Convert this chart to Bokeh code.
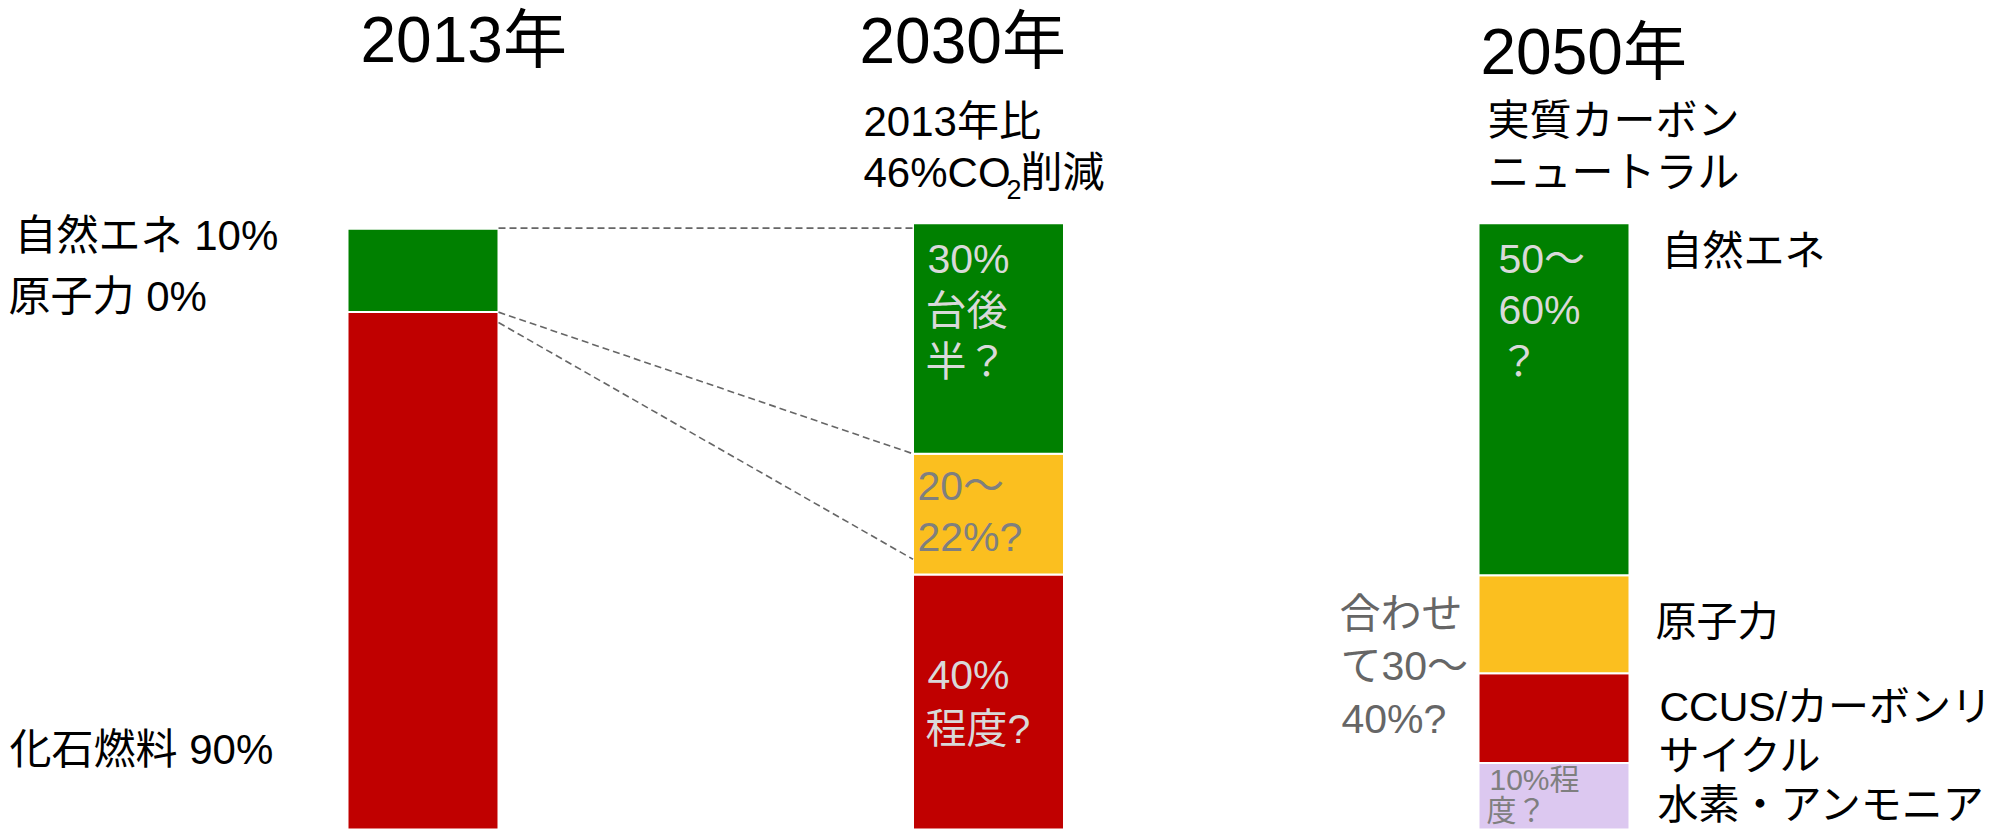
from bokeh.plotting import figure
from bokeh.models import Range1d, Label, ColumnDataSource
from bokeh.embed import file_html
from bokeh.resources import INLINE

# ---- data (% of generation) ----
years = ["2013年", "2030年", "2050年"]
series = ["hydrogen", "fossil", "nuclear", "renewable"]
hydrogen = [0.0, 0.0, 12.0]      # 水素・アンモニア
fossil = [85.5, 42.7, 14.6]      # 化石燃料 / CCUS・カーボンリサイクル
nuclear = [0.0, 19.7, 16.0]      # 原子力
renewable = [13.6, 37.6, 57.4]   # 自然エネ
colors = ["#DCC8F0", "#C00000", "#FBBF1F", "#008000"]

# dashed connectors from the 2013 bar to the 2030 bar (values)
conn_start = [99.2, 85.5, 83.8]
conn_end = [99.2, 62.4, 45.2]

FONT = "'Liberation Sans', 'Noto Sans CJK JP'"
W, H = 1995, 829
BW = 0.267
X0, SLOPE = -0.74713, 565.5  # data x at the left canvas edge, px per unit

p = figure(width=W, height=H, output_backend="svg", toolbar_location=None,
           x_range=Range1d(X0, X0 + W / SLOPE), y_range=Range1d(1.141, 136.31),
           x_axis_location=None, y_axis_location=None, min_border=0,
           outline_line_color=None, background_fill_color="white",
           border_fill_color="white")
p.grid.visible = False

idx = list(range(len(years)))
src = ColumnDataSource(dict(x=idx, hydrogen=hydrogen, fossil=fossil,
                            nuclear=nuclear, renewable=renewable))
p.vbar_stack(series, x="x", width=BW, fill_color=colors, line_color="white",
             line_width=2, source=src)

p.segment(x0=[idx[0] + BW / 2] * len(conn_start), y0=conn_start,
          x1=[idx[1] - BW / 2] * len(conn_end), y1=conn_end,
          line_color="#666666", line_width=1.6, line_dash="7 4")

BLACK = "#000000"
LIGHT = "#D9D9D9"
GRAY = "#7F7F7F"
DGRAY = "#666666"

texts = [
    ("2013年", 360, 41.5, 64, BLACK),
    ("2030年", 859, 42.5, 64, BLACK),
    ("2050年", 1480, 53, 64, BLACK),
    ("2013年比", 863, 122.5, 42, BLACK),
    ("46%CO", 863, 173.5, 42, BLACK),
    ("2", 1006, 190, 27, BLACK),
    ("削減", 1020, 173.5, 42, BLACK),
    ("実質カーボン", 1487, 121.5, 42, BLACK),
    ("ニュートラル", 1487, 173.5, 42, BLACK),
    ("自然エネ 10%", 14, 236, 42, BLACK),
    ("原子力 0%", 8, 297.5, 42, BLACK),
    ("化石燃料 90%", 9, 750, 42, BLACK),
    ("自然エネ", 1661, 251.5, 41, BLACK),
    ("原子力", 1655, 622.5, 41, BLACK),
    ("CCUS/カーボンリ", 1659, 707.5, 41, BLACK),
    ("サイクル", 1658, 757, 41, BLACK),
    ("水素・アンモニア", 1657, 806, 41, BLACK),
    ("合わせ", 1339, 615, 41, DGRAY),
    ("て30～", 1340, 666.5, 41, DGRAY),
    ("40%?", 1341, 719.5, 41, DGRAY),
    ("30%", 927, 260, 41, LIGHT),
    ("台後", 925, 311.5, 41, LIGHT),
    ("半？", 925, 362.5, 41, LIGHT),
    ("20～", 917, 486.5, 41, GRAY),
    ("22%?", 917, 537.5, 41, GRAY),
    ("40%", 927, 676, 41, LIGHT),
    ("程度?", 925, 729.5, 41, LIGHT),
    ("50～", 1498, 260, 41, LIGHT),
    ("60%", 1498, 311, 41, LIGHT),
    ("？", 1498, 362.5, 41, LIGHT),
    ("10%程", 1489, 780, 30, GRAY),
    ("度？", 1486, 811, 30, GRAY),
]

for t, X, Yc, size, col in texts:
    yc = Yc - 0.03 * size  # compensate the "middle" baseline offset
    p.add_layout(Label(x=X, y=H - yc, x_units="screen", y_units="screen",
                       text=t, text_font=FONT, text_font_size=f"{size}px",
                       text_color=col, text_baseline="middle", text_align="left"))

open("out.html", "w").write(file_html(p, INLINE))
